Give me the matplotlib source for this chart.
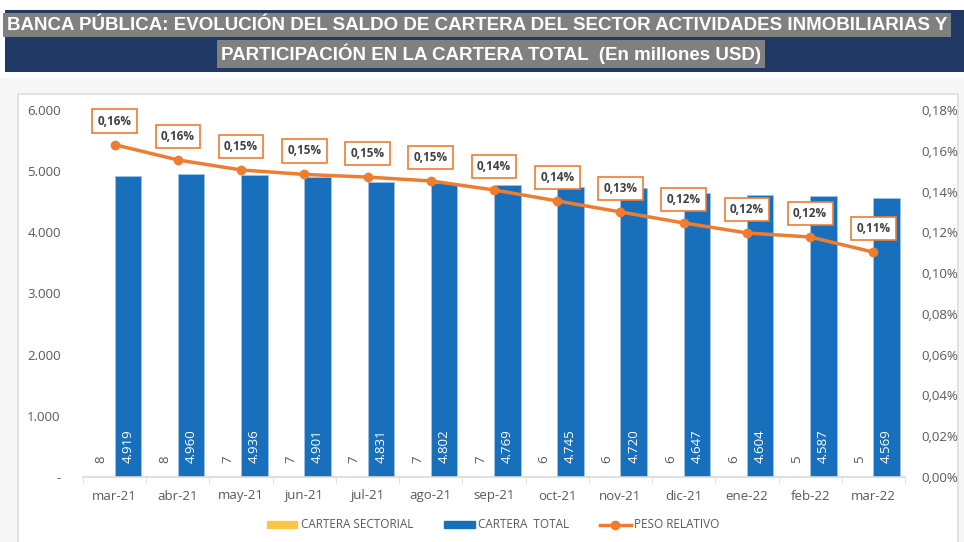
import numpy as np
import matplotlib.pyplot as plt
from matplotlib.patches import Rectangle
from matplotlib.lines import Line2D
from matplotlib.ticker import FuncFormatter

meses = ['mar-21', 'abr-21', 'may-21', 'jun-21', 'jul-21', 'ago-21', 'sep-21',
         'oct-21', 'nov-21', 'dic-21', 'ene-22', 'feb-22', 'mar-22']
cartera_sectorial = [8, 8, 7, 7, 7, 7, 7, 6, 6, 6, 6, 5, 5]
cartera_total = [4919, 4960, 4936, 4901, 4831, 4802, 4769, 4745, 4720, 4647, 4604, 4587, 4569]
peso_relativo = [0.163, 0.1555, 0.1506, 0.1484, 0.1471, 0.1452, 0.1408,
                 0.1354, 0.130, 0.1246, 0.1197, 0.1177, 0.1103]
peso_labels = ['0,16%', '0,16%', '0,15%', '0,15%', '0,15%', '0,15%', '0,14%',
               '0,14%', '0,13%', '0,12%', '0,12%', '0,12%', '0,11%']

azul = '#1870BC'
amarillo = '#FAC64A'
naranja = '#ED7D31'
gris = '#595959'

plt.rcParams['font.family'] = ['Open Sans', 'DejaVu Sans']

fig = plt.figure(figsize=(9.64, 5.42), dpi=100)
fig.patch.set_facecolor('#F7F7F7')

# header band and white card
fig.patches.append(Rectangle((0, 0), 1, 1, transform=fig.transFigure,
                             facecolor='white', edgecolor='none', zorder=-3))
fig.patches.append(Rectangle((5 / 964, 1 - 72 / 542), 1, 62 / 542, transform=fig.transFigure,
                             facecolor='#203864', edgecolor='none', zorder=-2))
fig.patches.append(Rectangle((0, 0), 1, 1 - 78 / 542, transform=fig.transFigure,
                             facecolor='#F7F7F7', edgecolor='none', zorder=-2))
fig.patches.append(Rectangle((18 / 964, -0.05), 940 / 964, 1 - 94 / 542 + 0.05,
                             transform=fig.transFigure,
                             facecolor='white', edgecolor='#DDDDDD', lw=1.2, zorder=-1))

tkw = dict(color='white', fontweight='bold', fontsize=13.5, family='Liberation Sans',
           va='center', bbox=dict(facecolor='#808080', edgecolor='none', pad=2.5))
fig.text(7 / 964, 1 - 25 / 542,
         'BANCA PÚBLICA: EVOLUCIÓN DEL SALDO DE CARTERA DEL SECTOR ACTIVIDADES INMOBILIARIAS Y',
         ha='left', **tkw)
fig.text(491 / 964, 1 - 54 / 542,
         'PARTICIPACIÓN EN LA CARTERA TOTAL  (En millones USD)', ha='center', **tkw)

ax = fig.add_axes([83 / 964, 65 / 542, 822 / 964, 367 / 542])
x = np.arange(len(meses))
w = 0.42
ax.bar(x - w / 2, cartera_sectorial, w, color=amarillo, label='CARTERA SECTORIAL')
ax.bar(x + w / 2, cartera_total, w, color=azul, edgecolor='#9DC3E6', lw=0.6,
       label='CARTERA  TOTAL')

for i in range(len(meses)):
    ax.text(x[i] + w / 2, 230, f'{cartera_total[i]:,}'.replace(',', '.'), rotation=90,
            ha='center', va='bottom', color='white', fontsize=9.5)
    ax.text(x[i] - w / 2, 230, str(cartera_sectorial[i]), rotation=90,
            ha='center', va='bottom', color=gris, fontsize=9.5)

ax.set_xlim(-0.47, 12.45)
ax.set_ylim(0, 6000)
ax.set_yticks(np.arange(0, 6001, 1000))
ax.yaxis.set_major_formatter(FuncFormatter(lambda v, p: '-' if v == 0 else f'{int(v):,}'.replace(',', '.')))
ax.set_xticks(x)
ax.set_xticklabels(meses)
ax.set_xticks(np.arange(-0.5, 12.6, 1), minor=True)
ax.tick_params(axis='x', which='major', length=0, pad=9, labelsize=9.5, labelcolor=gris)
ax.tick_params(axis='x', which='minor', length=4, color='#D9D9D9')
ax.tick_params(axis='y', length=0, pad=16, labelsize=9.5, labelcolor=gris)
for s in ['top', 'right', 'left']:
    ax.spines[s].set_visible(False)
ax.spines['bottom'].set_color('#D9D9D9')
ax.spines['bottom'].set_linewidth(1.2)

ax2 = ax.twinx()
ax2.plot(x, peso_relativo, color=naranja, lw=2.5, marker='o', ms=6, label='PESO RELATIVO')
for i in range(len(meses)):
    ax2.annotate(peso_labels[i], (x[i], peso_relativo[i]), xytext=(0, 17),
                 textcoords='offset points', ha='center', va='center', fontsize=8.5,
                 color='#404040', fontweight='bold',
                 bbox=dict(boxstyle='square,pad=0.45', facecolor='white',
                           edgecolor=naranja, lw=1.2))
ax2.set_ylim(0, 0.18)
ax2.set_yticks(np.arange(0, 0.181, 0.02))
ax2.yaxis.set_major_formatter(FuncFormatter(lambda v, p: f'{v:.2f}%'.replace('.', ',')))
ax2.tick_params(axis='y', length=0, pad=12, labelsize=9.5, labelcolor=gris)
for s in ax2.spines.values():
    s.set_visible(False)

handles = [Rectangle((0, 0), 1, 1, color=amarillo), Rectangle((0, 0), 1, 1, color=azul),
           Line2D([], [], color=naranja, lw=2.5, marker='o', ms=6)]
fig.legend(handles, ['CARTERA SECTORIAL', 'CARTERA  TOTAL', 'PESO RELATIVO'],
           loc='center', bbox_to_anchor=(493 / 964, 1 - 525 / 542), ncol=3, frameon=False,
           fontsize=8.5, labelcolor=gris, handlelength=2.6, handleheight=0.5,
           columnspacing=2.6, handletextpad=0.3)

fig.savefig('out.png', dpi=100, facecolor=fig.get_facecolor())
